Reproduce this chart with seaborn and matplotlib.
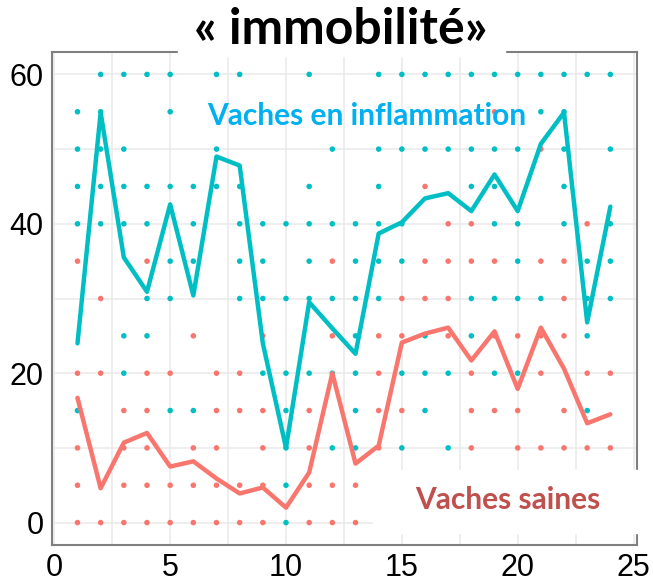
import numpy as np
import pandas as pd
import matplotlib
matplotlib.use("Agg")
import matplotlib.pyplot as plt
import seaborn as sns
from matplotlib.patches import Rectangle

# mean line per day
days = list(range(1, 25))
inflam_mean = [24.0, 54.9, 35.5, 30.9, 42.6, 30.4, 49.0, 47.8, 24.0, 10.0, 29.5, 26.0,
               22.6, 38.7, 40.2, 43.4, 44.1, 41.7, 46.6, 41.7, 50.7, 54.9, 26.8, 42.3]
saines_mean = [16.7, 4.6, 10.7, 12.0, 7.5, 8.2, 5.9, 3.9, 4.7, 2.0, 6.7, 20.0,
               7.9, 10.3, 24.1, 25.3, 26.1, 21.7, 25.6, 17.9, 26.1, 20.6, 13.3, 14.5]

# individual observations: y level -> days where a dot is visible
inflam_pts = {
    60: [2, 3, 4, 5, 7, 8, 11, 14, 15, 16, 17, 18, 19, 20, 21, 22, 23, 24],
    55: [1, 2, 5, 21, 22],
    50: [1, 2, 3, 7, 12, 14, 15, 16, 17, 18, 19, 20, 22, 24],
    45: [1, 2, 3, 4, 5, 6, 7, 8, 11, 14, 18, 19, 22],
    40: [1, 2, 3, 4, 6, 8, 9, 10, 11, 12, 13, 14, 15, 19, 20, 22, 24],
    35: [5, 6, 8, 9, 11, 13, 14, 15, 20, 23, 24],
    30: [4, 5, 8, 9, 10, 11, 12, 13, 14, 18, 19, 20, 21, 23, 24],
    25: [3, 4, 13, 16, 18, 23],
    20: [3, 9, 10, 11, 12, 13, 15, 16, 17, 19, 20],
    15: [1, 5, 6, 10, 13, 16, 23],
    10: [10, 12, 13, 15, 17],
    5: [10],
    0: [10],
}
saines_pts = {
    55: [19],
    50: [21],
    45: [16],
    40: [17, 18, 23],
    35: [1, 4, 12, 16, 17, 18, 19, 21, 22],
    30: [2, 15, 16, 17, 22],
    25: [6, 9, 12, 14, 15, 17, 19, 20, 21, 22],
    20: [1, 2, 4, 5, 7, 8, 14, 18, 21, 23, 24],
    15: [3, 4, 7, 8, 9, 11, 14, 15, 18, 19, 20, 22],
    10: [1, 3, 4, 6, 7, 9, 11, 14, 18, 20, 21, 22, 23, 24],
    5: [1, 2, 3, 4, 5, 6, 7, 8, 9, 11, 12, 13],
    0: [1, 2, 3, 4, 5, 6, 7, 8, 9, 11, 12, 13],
}

teal = "#00BFC4"
salmon = "#F8766D"

rows = []
for grp, pts in [("saines", saines_pts), ("inflam", inflam_pts)]:
    for lvl, xs in pts.items():
        for d in xs:
            rows.append({"day": d, "value": lvl, "grp": grp})
pts_df = pd.DataFrame(rows)
means_df = pd.concat([
    pd.DataFrame({"day": days, "value": saines_mean, "grp": "saines"}),
    pd.DataFrame({"day": days, "value": inflam_mean, "grp": "inflam"}),
])
palette = {"saines": salmon, "inflam": teal}

sns.set_theme(style="white")
fig = plt.figure(figsize=(6.53, 5.82), dpi=100)
ax = fig.add_axes([52 / 653, 1 - 545 / 582, (637 - 52) / 653, (545 - 52) / 582])

sns.scatterplot(data=pts_df, x="day", y="value", hue="grp", palette=palette,
                s=16, linewidth=0, legend=False, ax=ax, zorder=2)
sns.lineplot(data=means_df, x="day", y="value", hue="grp", palette=palette,
             lw=3.2, legend=False, ax=ax, zorder=3)

ax.set_xlim(-0.1, 25.15)
ax.set_ylim(-3, 63)
ax.set_xticks([0, 5, 10, 15, 20, 25])
ax.set_yticks([0, 20, 40, 60])
ax.set_xticks(np.arange(0, 25.1, 2.5), minor=True)
ax.set_yticks([10, 30, 50], minor=True)
ax.grid(which="both", color="#EBEBEB", lw=1.2, zorder=0)
ax.set_axisbelow(True)
ax.set_xlabel("")
ax.set_ylabel("")
for sp in ax.spines.values():
    sp.set_color("#7F7F7F")
    sp.set_linewidth(1.5)
ax.tick_params(which="major", length=4, width=1.2, color="#555555",
               labelsize=22, labelcolor="black", pad=2)
ax.tick_params(which="minor", length=0)
for lab in ax.get_xticklabels() + ax.get_yticklabels():
    lab.set_family("Liberation Sans")

# white cover boxes
fig.patches.append(Rectangle((178 / 653, 1 - 56 / 582), (505 - 178) / 653, 56 / 582,
                             transform=fig.transFigure, color="white", zorder=5))
fig.patches.append(Rectangle((373 / 653, 1 - 533 / 582), (648 - 373) / 653, (533 - 470) / 582,
                             transform=fig.transFigure, color="white", zorder=5))

fig.text(341 / 653, 1 - 29 / 582, "« immobilité»", ha="center", va="center",
         fontsize=36, fontweight="bold", family="Lato", color="black", zorder=6)
fig.text(367 / 653, 1 - 116 / 582, "Vaches en inflammation", ha="center", va="center",
         fontsize=21.5, fontweight="bold", family="Lato", color="#00B0F0", zorder=6)
fig.text(508 / 653, 1 - 500 / 582, "Vaches saines", ha="center", va="center",
         fontsize=21.5, fontweight="bold", family="Lato", color="#C0504D", zorder=6)

fig.savefig("out.png", dpi=100)
